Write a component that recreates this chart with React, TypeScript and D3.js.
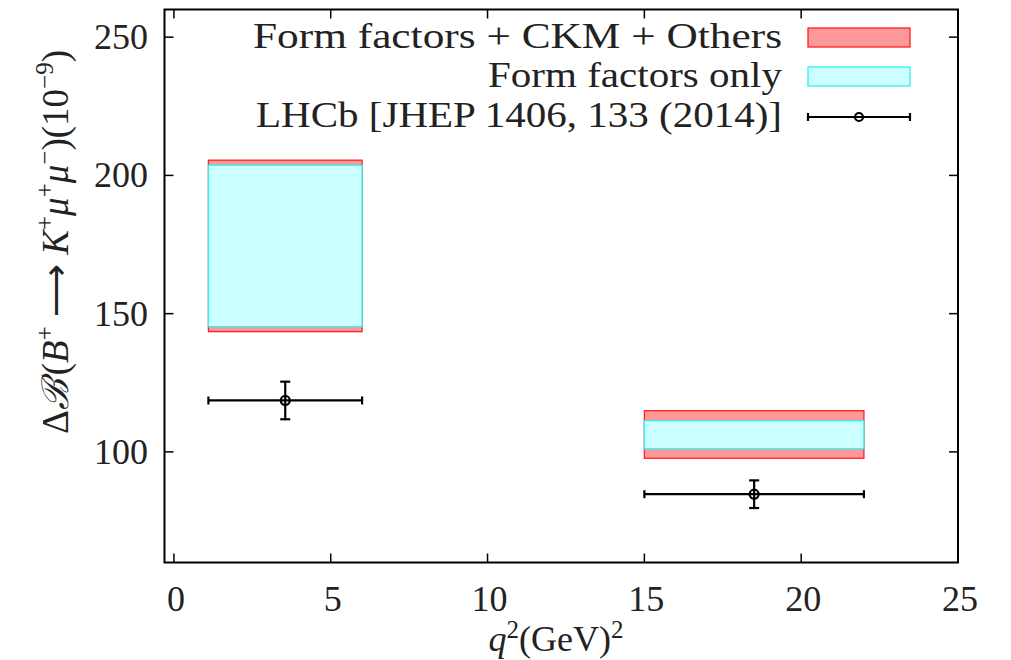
import React from "react";
import * as d3 from "d3";

// bins in q^2 (GeV^2)
const binLow = [1.1, 15];
const binHigh = [6, 22];
// Form factors + CKM + Others band
const totalLow = [143.5, 97.7];
const totalHigh = [205.5, 114.9];
// Form factors only band
const ffLow = [145.3, 101.1];
const ffHigh = [203.7, 111.3];
// LHCb measurement
const lhcbX = [3.55, 18.5];
const lhcbY = [118.6, 84.7];
const lhcbErr = [6.8, 5.0];

const xTicks = [0, 5, 10, 15, 20, 25];
const yTicks = [100, 150, 200, 250];

const legendLabels = [
  "Form factors + CKM + Others",
  "Form factors only",
  "LHCb [JHEP 1406, 133 (2014)]",
];

const FONT = "Liberation Serif, Times New Roman, serif";

const App = () => {
  const W = 1011, H = 660;
  const left = 164.5, right = 958, top = 9.5, bottom = 562.5;

  const x = d3.scaleLinear().domain([-0.3, 25]).range([left, right]);
  const y = d3.scaleLinear().domain([60, 260]).range([bottom, top]);

  const red = "#ff9999", redStroke = "#ff2020";
  const cyan = "#ccffff", cyanStroke = "#33eeee";

  const legendX1 = 808, legendX2 = 910;
  const legendTextX = 782;
  const legendBase = [48, 87, 127];
  const legendLen = [529, 294, 526];

  return (
    <svg width={W} height={H} style={{ display: "block", position: "absolute", left: 0, top: 0, background: "#fff" }}>
      <g style={{ fontFamily: FONT }} fill="#222">
        {/* bands */}
        {binLow.map((lo, i) => (
          <g key={"b" + i}>
            <rect x={x(lo)} y={y(totalHigh[i])} width={x(binHigh[i]) - x(lo)}
              height={y(totalLow[i]) - y(totalHigh[i])} fill={red} stroke={redStroke} strokeWidth={1.3} />
            <rect x={x(lo)} y={y(ffHigh[i])} width={x(binHigh[i]) - x(lo)}
              height={y(ffLow[i]) - y(ffHigh[i])} fill={cyan} stroke={cyanStroke} strokeWidth={1.3} />
          </g>
        ))}

        {/* LHCb points */}
        {lhcbX.map((px, i) => {
          const cx = x(px), cy = y(lhcbY[i]);
          const x1 = x(binLow[i]), x2 = x(binHigh[i]);
          const yt = y(lhcbY[i] + lhcbErr[i]), yb = y(lhcbY[i] - lhcbErr[i]);
          return (
            <g key={"p" + i} stroke="#000" strokeWidth={2.2} fill="none">
              <line x1={x1} x2={x2} y1={cy} y2={cy} />
              <line x1={x1} x2={x1} y1={cy - 4} y2={cy + 4} />
              <line x1={x2} x2={x2} y1={cy - 4} y2={cy + 4} />
              <line x1={cx} x2={cx} y1={yt} y2={yb} />
              <line x1={cx - 5} x2={cx + 5} y1={yt} y2={yt} />
              <line x1={cx - 5} x2={cx + 5} y1={yb} y2={yb} />
              <circle cx={cx} cy={cy} r={4.5} fill="none" />
            </g>
          );
        })}

        {/* frame */}
        <rect x={left} y={top} width={right - left} height={bottom - top} fill="none" stroke="#000" strokeWidth={2} />

        {/* x ticks */}
        {xTicks.map((t) => (
          <g key={"xt" + t}>
            <line x1={x(t)} x2={x(t)} y1={bottom} y2={bottom - 9} stroke="#000" strokeWidth={1.5} />
            <line x1={x(t)} x2={x(t)} y1={top} y2={top + 9} stroke="#000" strokeWidth={1.5} />
            <text x={x(t) + 2} y={611} fontSize={36} textAnchor="middle">{t}</text>
          </g>
        ))}

        {/* y ticks */}
        {yTicks.map((t) => (
          <g key={"yt" + t}>
            <line x1={left} x2={left + 9} y1={y(t)} y2={y(t)} stroke="#000" strokeWidth={1.5} />
            <line x1={right} x2={right - 9} y1={y(t)} y2={y(t)} stroke="#000" strokeWidth={1.5} />
            <text x={148} y={y(t) + 12} fontSize={36} textAnchor="end">{t}</text>
          </g>
        ))}

        {/* legend */}
        {legendLabels.map((lab, i) => (
          <text key={"l" + i} x={legendTextX} y={legendBase[i]} fontSize={36} textAnchor="end"
            textLength={legendLen[i]} lengthAdjust="spacingAndGlyphs">{lab}</text>
        ))}
        <rect x={legendX1} y={28} width={legendX2 - legendX1} height={19} fill={red} stroke={redStroke} strokeWidth={1.3} />
        <rect x={legendX1} y={67} width={legendX2 - legendX1} height={19} fill={cyan} stroke={cyanStroke} strokeWidth={1.3} />
        <g stroke="#000" strokeWidth={2.2} fill="none">
          <line x1={legendX1} x2={legendX2} y1={117} y2={117} />
          <line x1={legendX1} x2={legendX1} y1={113} y2={121} />
          <line x1={legendX2} x2={legendX2} y1={113} y2={121} />
          <circle cx={(legendX1 + legendX2) / 2} cy={117} r={4} />
        </g>

        {/* x label */}
        <text x={556} y={651} fontSize={36} textAnchor="middle">
          <tspan fontStyle="italic">q</tspan>
          <tspan dy={-13} fontSize={25}>2</tspan>
          <tspan dy={13}>(GeV)</tspan>
          <tspan dy={-13} fontSize={25}>2</tspan>
        </text>

        {/* y label */}
        <text transform="translate(68,242) rotate(-90)" fontSize={37} textAnchor="middle">
          <tspan>Δ</tspan>
          <tspan fontStyle="italic">ℬ</tspan>
          <tspan dx={4}>(</tspan>
          <tspan fontStyle="italic">B</tspan>
          <tspan dy={-15} fontSize={25}>+</tspan>
          <tspan dy={15}> ⟶ </tspan>
          <tspan fontStyle="italic">K</tspan>
          <tspan dy={-15} fontSize={25}>+</tspan>
          <tspan dy={15} fontStyle="italic">μ</tspan>
          <tspan dy={-15} fontSize={25}>+</tspan>
          <tspan dy={15} fontStyle="italic">μ</tspan>
          <tspan dy={-15} fontSize={25}>−</tspan>
          <tspan dy={15}>)(10</tspan>
          <tspan dy={-15} fontSize={25}>−9</tspan>
          <tspan dy={15}>)</tspan>
        </text>
      </g>
    </svg>
  );
};

export default App;
